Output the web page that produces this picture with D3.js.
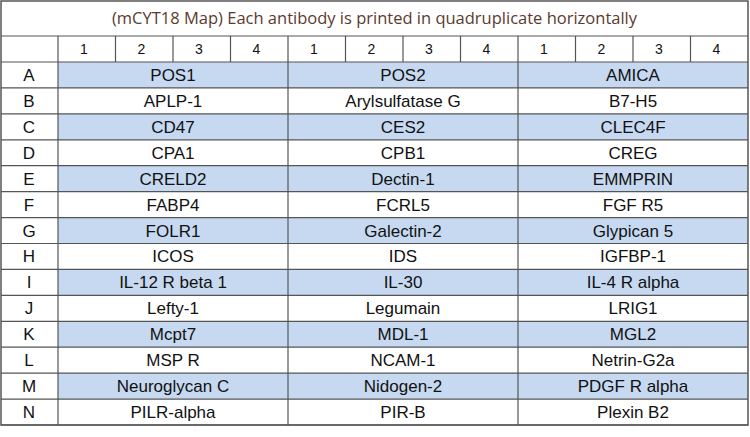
<!DOCTYPE html><html><head><meta charset="utf-8">
<script src="https://cdn.jsdelivr.net/npm/d3@7"></script>
<style>body{margin:0;background:#fff}</style></head><body><svg id="c" width="750" height="437"></svg>
<script>
const title = "(mCYT18 Map) Each antibody is printed in quadruplicate horizontally";
const rowLabels = ["A","B","C","D","E","F","G","H","I","J","K","L","M","N"];
const colTicks = ["1","2","3","4"];
const group1 = ["POS1","APLP-1","CD47","CPA1","CRELD2","FABP4","FOLR1","ICOS","IL-12 R beta 1","Lefty-1","Mcpt7","MSP R","Neuroglycan C","PILR-alpha"];
const group2 = ["POS2","Arylsulfatase G","CES2","CPB1","Dectin-1","FCRL5","Galectin-2","IDS","IL-30","Legumain","MDL-1","NCAM-1","Nidogen-2","PIR-B"];
const group3 = ["AMICA","B7-H5","CLEC4F","CREG","EMMPRIN","FGF R5","Glypican 5","IGFBP-1","IL-4 R alpha","LRIG1","MGL2","Netrin-G2a","PDGF R alpha","Plexin B2"];
const groups=[group1,group2,group3];
const svg=d3.select("#c");
const L=1,R=748,T=1,B=425,titleB=36,headB=62,labW=58;
const y=d3.scaleBand().domain(rowLabels).range([headB,B]);
const gx=d3.scaleBand().domain([0,1,2]).range([labW,R]);
const cx=d3.scaleBand().domain(d3.range(12)).range([labW,R]);
const stroke="#555";
// fills
rowLabels.forEach((r,i)=>{ if(i%2===0){ svg.append("rect").attr("x",labW).attr("y",y(r)).attr("width",R-labW).attr("height",y.bandwidth()).attr("fill","#c6d9f1"); }});
// lines
const ln=(x1,y1,x2,y2)=>svg.append("line").attr("x1",x1).attr("y1",y1).attr("x2",x2).attr("y2",y2).attr("stroke",stroke).attr("stroke-width",1.2);
svg.append("rect").attr("x",L).attr("y",T).attr("width",R-L).attr("height",B-T).attr("fill","none").attr("stroke",stroke).attr("stroke-width",1.5);
ln(L,titleB,R,titleB); ln(L,headB,R,headB);
rowLabels.forEach(r=>ln(L,y(r)+y.bandwidth(),R,y(r)+y.bandwidth()));
ln(labW,titleB,labW,B);
d3.range(12).forEach(i=>{ if(i>0) ln(cx(i),titleB,cx(i),i%4===0?B:headB); });
// title
svg.append("text").attr("x",(L+R)/2).attr("y",24).attr("text-anchor","middle").attr("font-family","Open Sans, sans-serif").attr("font-size",16.5).attr("fill","#5b3a2e").text(title);
// header ticks
d3.range(12).forEach(i=>svg.append("text").attr("x",cx(i)+cx.bandwidth()*0.45).attr("y",54).attr("text-anchor","middle").attr("font-family","Liberation Sans, Arial").attr("font-size",14).attr("fill","#111").text(colTicks[i%4]));
rowLabels.forEach((r,i)=>{
 svg.append("text").attr("x",labW/2).attr("y",y(r)+y.bandwidth()/2+6).attr("text-anchor","middle").attr("font-family","Liberation Sans, Arial").attr("font-size",17).attr("fill","#111").text(r);
 groups.forEach((g,j)=>svg.append("text").attr("x",gx(j)+gx.bandwidth()/2).attr("y",y(r)+y.bandwidth()/2+6).attr("text-anchor","middle").attr("font-family","Liberation Sans, Arial").attr("font-size",17).attr("fill","#111").text(g[i]));
});
</script></body></html>
